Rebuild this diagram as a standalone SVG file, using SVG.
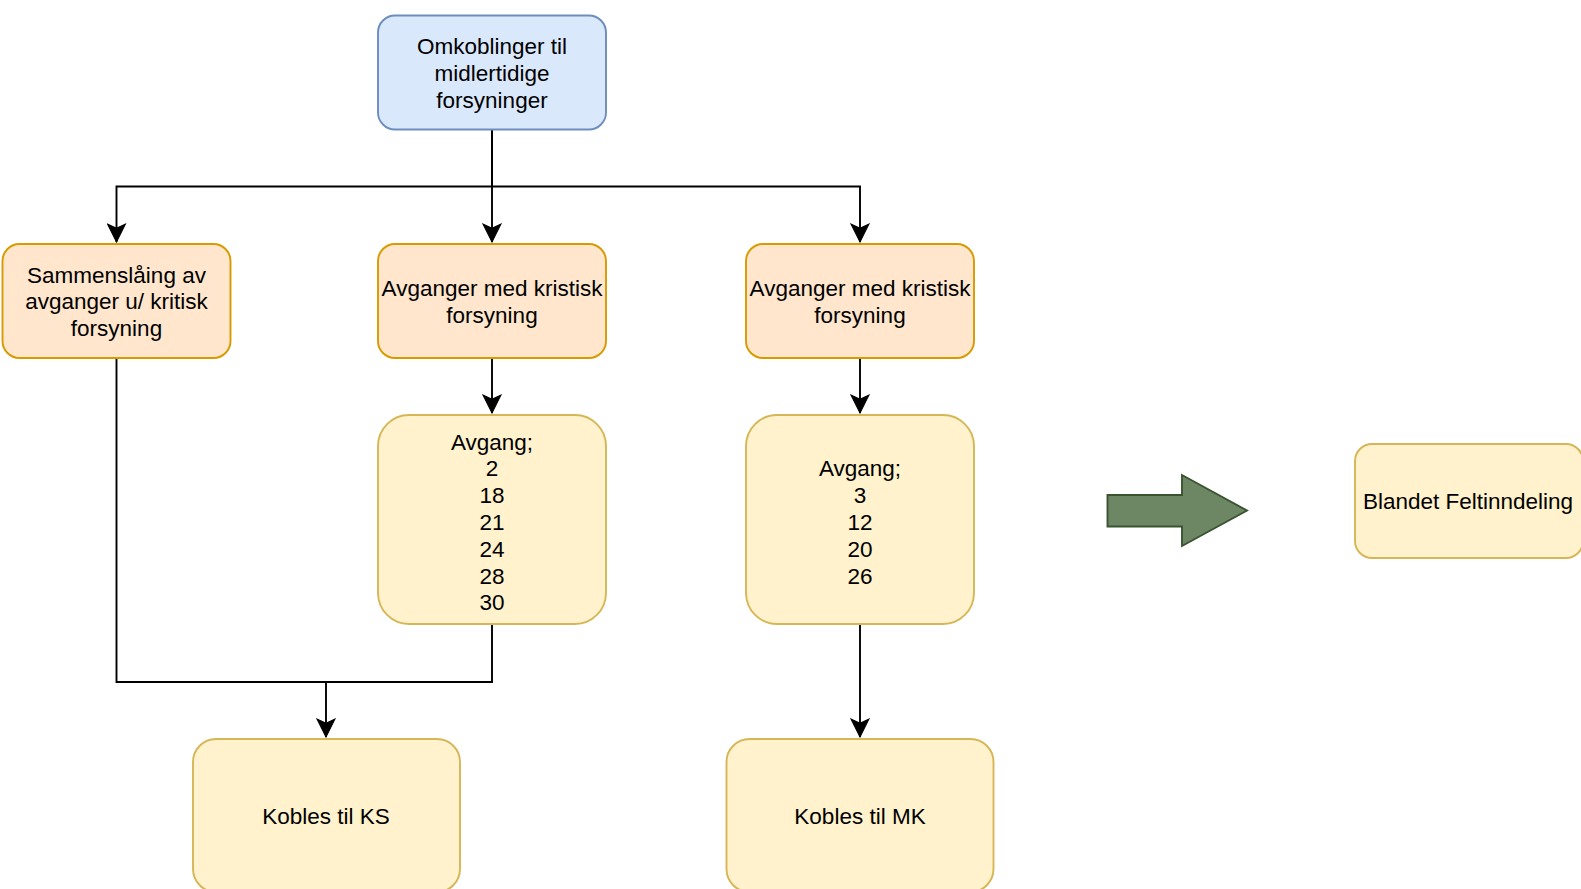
<svg xmlns="http://www.w3.org/2000/svg" width="1581" height="889" viewBox="0 0 1581 889">
  <style>
    .blue { fill: #dae8fc; stroke: #6c8ebf; stroke-width: 1.9; }
    .orange { fill: #ffe6cc; stroke: #d79b00; stroke-width: 1.9; }
    .yellow { fill: #fff2cc; stroke: #d6b656; stroke-width: 1.9; }
    .label { font-family: "Liberation Sans", Arial, sans-serif; font-size: 22.5px; fill: #000; text-anchor: middle; }
    .edge { fill: none; stroke: #000; stroke-width: 1.9; }
  </style>
  <defs>
    <marker id="arrow" markerUnits="userSpaceOnUse" markerWidth="20" markerHeight="20" viewBox="-18 -9 19 18" refX="0" refY="0" orient="auto">
      <path d="M-17,-8.5 L0,0 L-17,8.5 L-13,0 Z" fill="#000" stroke="#000" stroke-width="1"/>
    </marker>
  </defs>

  <rect width="1581" height="889" fill="#ffffff"/>

  <!-- connectors -->
  <g id="connectors">
    <path class="edge" d="M492,129.5 V186.5 H116.5 V242" marker-end="url(#arrow)"/>
    <path class="edge" d="M492,129.5 V242" marker-end="url(#arrow)"/>
    <path class="edge" d="M492,186.5 H860 V242" marker-end="url(#arrow)"/>
    <path class="edge" d="M492,358 V413" marker-end="url(#arrow)"/>
    <path class="edge" d="M860,358 V413" marker-end="url(#arrow)"/>
    <path class="edge" d="M116.5,358 V682 H492 V624"/>
    <path class="edge" d="M326,682 V737" marker-end="url(#arrow)"/>
    <path class="edge" d="M860,624 V737" marker-end="url(#arrow)"/>
  </g>

  <!-- top: temporary supply switching -->
  <g id="node-omkoblinger">
    <rect class="blue" x="378" y="15.5" width="228" height="114" rx="17" ry="17"/>
    <text class="label"><tspan x="492" y="54">Omkoblinger til</tspan><tspan x="492" y="80.8">midlertidige</tspan><tspan x="492" y="107.6">forsyninger</tspan></text>
  </g>

  <!-- middle row -->
  <g id="node-sammenslaaing">
    <rect class="orange" x="2.5" y="244" width="228" height="114" rx="17" ry="17"/>
    <text class="label"><tspan x="116.5" y="282.5">Sammenslåing av</tspan><tspan x="116.5" y="309.3">avganger u/ kritisk</tspan><tspan x="116.5" y="336.1">forsyning</tspan></text>
  </g>

  <g id="node-kritisk-1">
    <rect class="orange" x="378" y="244" width="228" height="114" rx="17" ry="17"/>
    <text class="label"><tspan x="492" y="296">Avganger med kristisk</tspan><tspan x="492" y="322.8">forsyning</tspan></text>
  </g>

  <g id="node-kritisk-2">
    <rect class="orange" x="746" y="244" width="228" height="114" rx="17" ry="17"/>
    <text class="label"><tspan x="860" y="296">Avganger med kristisk</tspan><tspan x="860" y="322.8">forsyning</tspan></text>
  </g>

  <!-- feeder lists -->
  <g id="node-avgang-1">
    <rect class="yellow" x="378" y="415" width="228" height="209" rx="31" ry="31"/>
    <text class="label"><tspan x="492" y="449.5">Avgang;</tspan><tspan x="492" y="476.3">2</tspan><tspan x="492" y="503.1">18</tspan><tspan x="492" y="529.9">21</tspan><tspan x="492" y="556.7">24</tspan><tspan x="492" y="583.5">28</tspan><tspan x="492" y="610.3">30</tspan></text>
  </g>

  <g id="node-avgang-2">
    <rect class="yellow" x="746" y="415" width="228" height="209" rx="31" ry="31"/>
    <text class="label"><tspan x="860" y="476.3">Avgang;</tspan><tspan x="860" y="503.1">3</tspan><tspan x="860" y="529.9">12</tspan><tspan x="860" y="556.7">20</tspan><tspan x="860" y="583.5">26</tspan></text>
  </g>

  <!-- destinations -->
  <g id="node-kobles-ks">
    <rect class="yellow" x="193" y="739" width="267" height="153" rx="23" ry="23"/>
    <text class="label" x="326" y="823.5">Kobles til KS</text>
  </g>

  <g id="node-kobles-mk">
    <rect class="yellow" x="726.5" y="739" width="267" height="153" rx="23" ry="23"/>
    <text class="label" x="860" y="823.5">Kobles til MK</text>
  </g>

  <!-- block arrow -->
  <g id="shape-arrow">
    <path d="M1107.5,495 H1182 V475 L1247,510.5 L1182,546 V526.5 H1107.5 Z" fill="#6d8764" stroke="#3a5431" stroke-width="1.9"/>
  </g>

  <g id="node-blandet">
    <rect class="yellow" x="1355" y="444" width="228" height="114" rx="17" ry="17"/>
    <text class="label" x="1468" y="509">Blandet Feltinndeling</text>
  </g>
</svg>
